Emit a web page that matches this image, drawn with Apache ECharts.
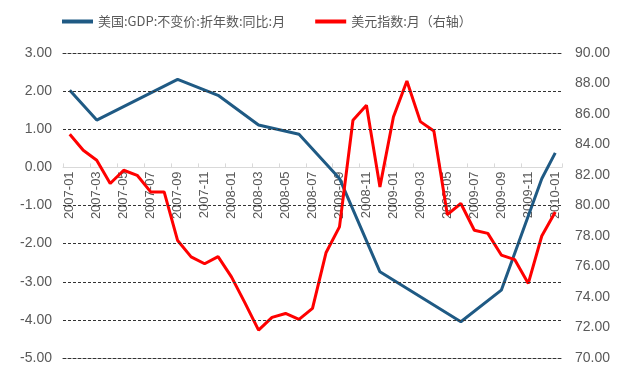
<!DOCTYPE html>
<html>
<head>
<meta charset="utf-8">
<script src="https://cdn.jsdelivr.net/npm/echarts@6/dist/echarts.min.js"></script>
<style>html,body{margin:0;padding:0;background:#fff}#c{width:630px;height:381px}</style>
</head>
<body>
<div id="c"></div>
<script>
const months = ['2007-01','2007-02','2007-03','2007-04','2007-05','2007-06','2007-07','2007-08','2007-09','2007-10','2007-11','2007-12',
'2008-01','2008-02','2008-03','2008-04','2008-05','2008-06','2008-07','2008-08','2008-09','2008-10','2008-11','2008-12',
'2009-01','2009-02','2009-03','2009-04','2009-05','2009-06','2009-07','2009-08','2009-09','2009-10','2009-11','2009-12','2010-01'];
const gdpName = '美国:GDP:不变价:折年数:同比:月';
const dxyName = '美元指数:月（右轴）';
const gdp = [2.02, null, 1.24, null, null, null, null, null, 2.31, null, null, 1.89,
  null, null, 1.11, null, null, 0.87, null, null, -0.29, null, null, -2.74,
  null, null, null, null, null, -4.05, null, null, -3.22, null, null, -0.30, 0.38];
const dxy = [84.67, 83.62, 82.97, 81.44, 82.31, 81.98, 80.89, 80.89, 77.7, 76.63, 76.18, 76.65,
  75.3, 73.6, 71.83, 72.66, 72.92, 72.53, 73.25, 76.9, 78.6, 85.59, 86.57, 81.22,
  85.8, 88.16, 85.5, 84.89, 79.4, 80.13, 78.38, 78.17, 76.75, 76.45, 74.89, 78.0, 79.58];
// dashed gridlines at inner left-axis ticks (zero is the x-axis line; 3 and -5 are the grid edges)
const gridTicks = [2, 1, -1, -2, -3, -4];

const dashed = {color: '#333333', type: [3, 2], width: 1};
const edgeAxis = pos => ({
  type: 'category', data: months, position: pos, boundaryGap: true,
  axisLine: {show: true, onZero: false, lineStyle: dashed},
  axisTick: {show: false}, axisLabel: {show: false}, splitLine: {show: false}
});

const chart = echarts.init(document.getElementById('c'));
chart.setOption({
  animation: false,
  textStyle: {fontFamily: 'Liberation Sans, Arial, sans-serif'},
  legend: {
    left: 57, top: 10,
    itemWidth: 31, itemHeight: 4, itemGap: 30,
    icon: 'rect',
    textStyle: {fontSize: 13, color: '#595959', fontFamily: 'Noto Sans CJK SC'},
    data: [gdpName, dxyName]
  },
  grid: {left: 63, right: 68, top: 53, bottom: 23},
  xAxis: [{
    type: 'category', data: months, boundaryGap: true,
    position: 'bottom', offset: -190.6,
    axisLine: {onZero: false, lineStyle: {color: '#d9d9d9', width: 1}},
    axisTick: {show: true, interval: 1, length: 4, inside: true, lineStyle: {color: '#d9d9d9'}},
    axisLabel: {interval: 1, rotate: 90, fontSize: 13, color: '#595959', margin: 4}
  }, edgeAxis('top'), Object.assign(edgeAxis('bottom'), {offset: 0})],
  yAxis: [{
    type: 'value', min: -5, max: 3, interval: 1,
    axisLine: {show: false}, axisTick: {show: false},
    axisLabel: {fontSize: 14, color: '#595959', margin: 11, formatter: v => v.toFixed(2)},
    splitLine: {show: false}
  }, {
    type: 'value', min: 70, max: 90, interval: 2,
    axisLine: {show: false}, axisTick: {show: false},
    axisLabel: {fontSize: 14, color: '#595959', margin: 13, formatter: v => v.toFixed(2)},
    splitLine: {show: false}
  }],
  series: [{
    name: gdpName, type: 'line', xAxisIndex: 0, yAxisIndex: 0, data: gdp,
    connectNulls: true, symbol: 'none', clip: false,
    lineStyle: {color: '#1F5A84', width: 3}, itemStyle: {color: '#1F5A84'}, z: 3,
    markLine: {
      silent: true, symbol: ['none', 'none'], animation: false,
      label: {show: false},
      lineStyle: dashed,
      emphasis: {disabled: true},
      data: gridTicks.map(v => ({yAxis: v}))
    }
  }, {
    name: dxyName, type: 'line', xAxisIndex: 0, yAxisIndex: 1, data: dxy,
    symbol: 'none',
    lineStyle: {color: '#FF0000', width: 3}, itemStyle: {color: '#FF0000'}, z: 4
  }]
});
</script>
</body>
</html>
